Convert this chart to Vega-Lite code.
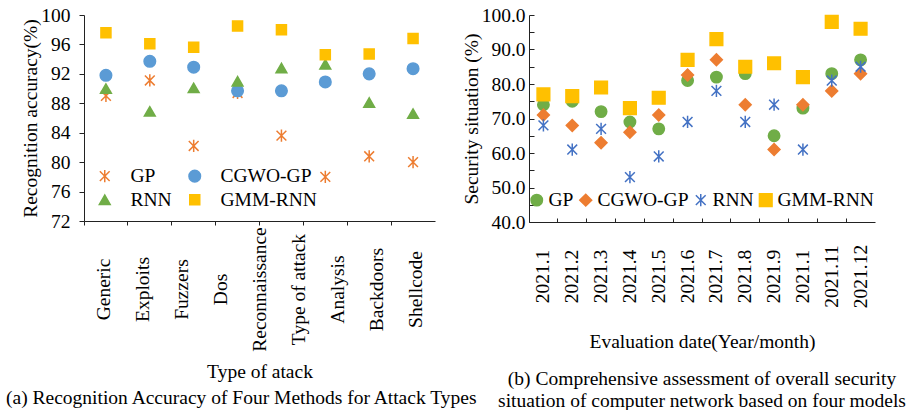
{
  "$schema": "https://vega.github.io/schema/vega-lite/v6.json",
  "padding": {"left": 5, "top": 5, "right": 0, "bottom": 0},
  "autosize": {"type": "pad"},
  "bounds": "flush",
  "spacing": 94,
  "resolve": {"scale": {"shape": "independent", "fill": "independent", "stroke": "independent", "size": "independent"}},
  "config": {
    "view": {"stroke": null},
    "font": "Liberation Serif",
    "axis": {
      "labelFont": "Liberation Serif", "titleFont": "Liberation Serif",
      "labelFontSize": 19.5, "titleFontSize": 19.5, "titleFontWeight": "normal",
      "labelColor": "#000", "titleColor": "#000",
      "domainColor": "#222", "tickColor": "#222", "grid": false
    },
    "legend": {"labelFont": "Liberation Serif", "labelFontSize": 19.5, "labelColor": "#000"},
    "title": {"font": "Liberation Serif", "fontSize": 19.5, "fontWeight": "normal", "color": "#000"}
  },
  "hconcat": [
    {
      "width": 351,
      "height": 206,
      "title": {
        "text": "(a) Recognition Accuracy of Four Methods for Attack Types",
        "orient": "bottom", "anchor": "start", "frame": "bounds", "dx": -14, "offset": 8
      },
      "layer": [
        {
          "data": {"values": [
            {"label": "Generic"}, {"label": "Exploits"}, {"label": "Fuzzers"}, {"label": "Dos"},
            {"label": "Reconnaissance"}, {"label": "Type of attack"}, {"label": "Analysis"},
            {"label": "Backdoors"}, {"label": "Shellcode"}
          ]},
          "mark": {"type": "tick", "opacity": 0},
          "encoding": {
            "x": {
              "field": "label", "type": "nominal", "sort": null,
              "scale": {"type": "band", "paddingInner": 0, "paddingOuter": 0},
              "axis": {
                "orient": "bottom", "title": "Type of atack",
                "labelAngle": -90, "labelAlign": "center", "labelBaseline": "middle",
                "ticks": false, "tickSize": 0, "domain": false, "labelPadding": 68,
                "titleY": 150, "titleBaseline": "middle"
              }
            }
          }
        },
        {
          "data": {"values": [
            {"attack": "Generic", "model": "GP", "value": 89.0},
            {"attack": "Generic", "model": "CGWO-GP", "value": 91.8},
            {"attack": "Generic", "model": "RNN", "value": 90.0},
            {"attack": "Generic", "model": "GMM-RNN", "value": 97.6},
            {"attack": "Exploits", "model": "GP", "value": 91.1},
            {"attack": "Exploits", "model": "CGWO-GP", "value": 93.7},
            {"attack": "Exploits", "model": "RNN", "value": 86.9},
            {"attack": "Exploits", "model": "GMM-RNN", "value": 96.1},
            {"attack": "Fuzzers", "model": "GP", "value": 82.2},
            {"attack": "Fuzzers", "model": "CGWO-GP", "value": 92.9},
            {"attack": "Fuzzers", "model": "RNN", "value": 90.1},
            {"attack": "Fuzzers", "model": "GMM-RNN", "value": 95.6},
            {"attack": "Dos", "model": "GP", "value": 89.4},
            {"attack": "Dos", "model": "CGWO-GP", "value": 89.7},
            {"attack": "Dos", "model": "RNN", "value": 91.0},
            {"attack": "Dos", "model": "GMM-RNN", "value": 98.5},
            {"attack": "Reconnaissance", "model": "GP", "value": 83.6},
            {"attack": "Reconnaissance", "model": "CGWO-GP", "value": 89.7},
            {"attack": "Reconnaissance", "model": "RNN", "value": 92.8},
            {"attack": "Reconnaissance", "model": "GMM-RNN", "value": 98.0},
            {"attack": "Analysis", "model": "GP", "value": 78.0},
            {"attack": "Analysis", "model": "CGWO-GP", "value": 90.9},
            {"attack": "Analysis", "model": "RNN", "value": 93.3},
            {"attack": "Analysis", "model": "GMM-RNN", "value": 94.6},
            {"attack": "Backdoors", "model": "GP", "value": 80.8},
            {"attack": "Backdoors", "model": "CGWO-GP", "value": 92.0},
            {"attack": "Backdoors", "model": "RNN", "value": 88.1},
            {"attack": "Backdoors", "model": "GMM-RNN", "value": 94.7},
            {"attack": "Shellcode", "model": "GP", "value": 80.0},
            {"attack": "Shellcode", "model": "CGWO-GP", "value": 92.7},
            {"attack": "Shellcode", "model": "RNN", "value": 86.6},
            {"attack": "Shellcode", "model": "GMM-RNN", "value": 96.8}
          ]},
          "mark": {"type": "point", "strokeWidth": 1.5, "opacity": 1},
          "encoding": {
            "x": {
              "field": "attack", "type": "nominal", "sort": null,
              "scale": {"type": "band", "paddingInner": 0, "paddingOuter": 0},
              "axis": {"orient": "bottom", "title": null, "labels": false, "ticks": true, "tickSize": 4, "bandPosition": 0, "domain": true}
            },
            "y": {
              "field": "value", "type": "quantitative",
              "scale": {"domain": [72, 100], "nice": false, "zero": false},
              "axis": {
                "title": "Recognition accuracy(%)", "values": [72, 76, 80, 84, 88, 92, 96, 100],
                "tickSize": 5, "labelPadding": 9, "titleX": -54, "titleBaseline": "middle"
              }
            },
            "shape": {
              "field": "model", "type": "nominal",
              "scale": {"domain": ["GP", "CGWO-GP", "RNN", "GMM-RNN"],
                "range": ["M-0.8,-0.8L0.8,0.8M-0.8,0.8L0.8,-0.8M0,-1L0,1", "circle", "triangle-up", "square"]},
              "legend": {"title": null, "orient": "none", "legendX": 11, "legendY": 151, "columns": 2, "direction": "horizontal",
                "columnPadding": 13, "rowPadding": 3, "labelOffset": 16, "padding": 0}
            },
            "fill": {
              "field": "model", "type": "nominal",
              "scale": {"domain": ["GP", "CGWO-GP", "RNN", "GMM-RNN"],
                "range": ["transparent", "#5B9BD5", "#70AD47", "#FFC000"]},
              "legend": {"title": null, "orient": "none", "legendX": 11, "legendY": 151, "columns": 2, "direction": "horizontal",
                "columnPadding": 13, "rowPadding": 3, "labelOffset": 16, "padding": 0}
            },
            "stroke": {
              "field": "model", "type": "nominal",
              "scale": {"domain": ["GP", "CGWO-GP", "RNN", "GMM-RNN"],
                "range": ["#ED7D31", "#5B9BD5", "#70AD47", "#FFC000"]},
              "legend": {"title": null, "orient": "none", "legendX": 11, "legendY": 151, "columns": 2, "direction": "horizontal",
                "columnPadding": 13, "rowPadding": 3, "labelOffset": 16, "padding": 0}
            },
            "size": {
              "field": "model", "type": "nominal",
              "scale": {"domain": ["GP", "CGWO-GP", "RNN", "GMM-RNN"], "range": [150, 100, 150, 130]},
              "legend": {"title": null, "orient": "none", "legendX": 11, "legendY": 151, "columns": 2, "direction": "horizontal",
                "columnPadding": 13, "rowPadding": 3, "labelOffset": 16, "padding": 0}
            }
          }
        }
      ],
      "resolve": {"scale": {"x": "independent"}, "axis": {"x": "independent"}}
    },
    {
      "width": 346,
      "height": 207,
      "title": {
        "text": ["(b) Comprehensive assessment of overall security", "situation of computer network based on four models"],
        "orient": "bottom", "anchor": "middle", "frame": "group", "offset": 19, "lineHeight": 22
      },
      "data": {"values": [
        {"month": "2021.1", "model": "GP", "value": 74}, {"month": "2021.1", "model": "CGWO-GP", "value": 71}, {"month": "2021.1", "model": "RNN", "value": 68}, {"month": "2021.1", "model": "GMM-RNN", "value": 77},
        {"month": "2021.2", "model": "GP", "value": 75}, {"month": "2021.2", "model": "CGWO-GP", "value": 68}, {"month": "2021.2", "model": "RNN", "value": 61}, {"month": "2021.2", "model": "GMM-RNN", "value": 76.5},
        {"month": "2021.3", "model": "GP", "value": 72}, {"month": "2021.3", "model": "CGWO-GP", "value": 63}, {"month": "2021.3", "model": "RNN", "value": 67}, {"month": "2021.3", "model": "GMM-RNN", "value": 79},
        {"month": "2021.4", "model": "GP", "value": 69}, {"month": "2021.4", "model": "CGWO-GP", "value": 66}, {"month": "2021.4", "model": "RNN", "value": 53}, {"month": "2021.4", "model": "GMM-RNN", "value": 73},
        {"month": "2021.5", "model": "GP", "value": 67}, {"month": "2021.5", "model": "CGWO-GP", "value": 71}, {"month": "2021.5", "model": "RNN", "value": 59}, {"month": "2021.5", "model": "GMM-RNN", "value": 76},
        {"month": "2021.6", "model": "GP", "value": 81}, {"month": "2021.6", "model": "CGWO-GP", "value": 82.6}, {"month": "2021.6", "model": "RNN", "value": 69}, {"month": "2021.6", "model": "GMM-RNN", "value": 87},
        {"month": "2021.7", "model": "GP", "value": 82}, {"month": "2021.7", "model": "CGWO-GP", "value": 87}, {"month": "2021.7", "model": "RNN", "value": 78}, {"month": "2021.7", "model": "GMM-RNN", "value": 93},
        {"month": "2021.8", "model": "GP", "value": 83}, {"month": "2021.8", "model": "CGWO-GP", "value": 74}, {"month": "2021.8", "model": "RNN", "value": 69}, {"month": "2021.8", "model": "GMM-RNN", "value": 85},
        {"month": "2021.9", "model": "GP", "value": 65}, {"month": "2021.9", "model": "CGWO-GP", "value": 61}, {"month": "2021.9", "model": "RNN", "value": 74}, {"month": "2021.9", "model": "GMM-RNN", "value": 86},
        {"month": "2021.10", "model": "GP", "value": 73}, {"month": "2021.10", "model": "CGWO-GP", "value": 74}, {"month": "2021.10", "model": "RNN", "value": 61}, {"month": "2021.10", "model": "GMM-RNN", "value": 82},
        {"month": "2021.11", "model": "GP", "value": 83}, {"month": "2021.11", "model": "CGWO-GP", "value": 78}, {"month": "2021.11", "model": "RNN", "value": 81}, {"month": "2021.11", "model": "GMM-RNN", "value": 98},
        {"month": "2021.12", "model": "GP", "value": 87}, {"month": "2021.12", "model": "CGWO-GP", "value": 83}, {"month": "2021.12", "model": "RNN", "value": 85}, {"month": "2021.12", "model": "GMM-RNN", "value": 96}
      ]},
      "mark": {"type": "point", "strokeWidth": 1.5, "opacity": 1},
      "encoding": {
        "x": {
          "field": "month", "type": "nominal", "sort": null,
          "scale": {"type": "band", "paddingInner": 0, "paddingOuter": 0},
          "axis": {
            "title": "Evaluation date(Year/month)", "labelAngle": -90, "labelAlign": "center", "labelBaseline": "middle",
            "labelExpr": "datum.value == '2021.10' ? '2021.1' : datum.value",
            "tickSize": -4, "bandPosition": 0, "labelPadding": 58,
            "titleY": 119, "titleBaseline": "middle"
          }
        },
        "y": {
          "field": "value", "type": "quantitative",
          "scale": {"domain": [40, 100], "nice": false, "zero": false},
          "axis": {
            "title": "Security situation (%)", "values": [40, 45, 50, 55, 60, 65, 70, 75, 80, 85, 90, 95, 100],
            "labelExpr": "datum.value % 10 == 0 ? format(datum.value, '.1f') : ''",
            "tickSize": -5, "labelPadding": 9, "titleX": -58, "titleBaseline": "middle"
          }
        },
        "shape": {
          "field": "model", "type": "nominal",
          "scale": {"domain": ["GP", "CGWO-GP", "RNN", "GMM-RNN"],
            "range": ["circle", "diamond", "M-0.8,-0.8L0.8,0.8M-0.8,0.8L0.8,-0.8M0,-1L0,1", "square"]},
          "legend": {"title": null, "orient": "none", "legendX": -2, "legendY": 175, "direction": "horizontal", "columns": 4,
            "columnPadding": 2, "labelOffset": 2, "padding": 0}
        },
        "fill": {
          "field": "model", "type": "nominal",
          "scale": {"domain": ["GP", "CGWO-GP", "RNN", "GMM-RNN"],
            "range": ["#70AD47", "#ED7D31", "transparent", "#FFC000"]},
          "legend": {"title": null, "orient": "none", "legendX": -2, "legendY": 175, "direction": "horizontal", "columns": 4,
            "columnPadding": 2, "labelOffset": 2, "padding": 0}
        },
        "stroke": {
          "field": "model", "type": "nominal",
          "scale": {"domain": ["GP", "CGWO-GP", "RNN", "GMM-RNN"],
            "range": ["#70AD47", "#ED7D31", "#4472C4", "#FFC000"]},
          "legend": {"title": null, "orient": "none", "legendX": -2, "legendY": 175, "direction": "horizontal", "columns": 4,
            "columnPadding": 2, "labelOffset": 2, "padding": 0}
        },
        "size": {
          "field": "model", "type": "nominal",
          "scale": {"domain": ["GP", "CGWO-GP", "RNN", "GMM-RNN"], "range": [130, 160, 150, 140]},
          "legend": {"title": null, "orient": "none", "legendX": -2, "legendY": 175, "direction": "horizontal", "columns": 4,
            "columnPadding": 2, "labelOffset": 2, "padding": 0}
        }
      }
    }
  ]
}
